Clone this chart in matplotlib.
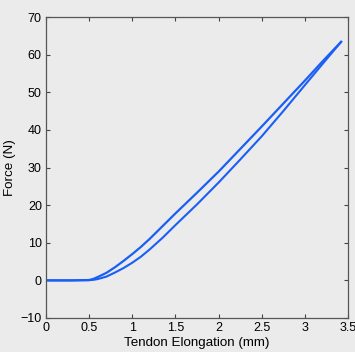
import matplotlib
matplotlib.use("Agg")
import matplotlib.pyplot as plt

# unloading branch (upper) and loading branch (lower)
x_up = [0, 0.3, 0.5, 0.55, 0.6, 0.7, 0.8, 0.9, 1.0, 1.1, 1.2, 1.35, 1.5, 1.75,
        2.0, 2.25, 2.5, 2.75, 3.0, 3.2, 3.42]
f_up = [0, 0, 0.1, 0.4, 0.9, 2.0, 3.5, 5.2, 7.0, 8.9, 11.0, 14.4, 17.8, 23.3,
        28.9, 34.9, 40.9, 47.0, 53.1, 58.1, 63.4]
x_lo = [0, 0.3, 0.5, 0.55, 0.6, 0.7, 0.8, 0.9, 1.0, 1.1, 1.2, 1.35, 1.5, 1.75,
        2.0, 2.25, 2.5, 2.75, 3.0, 3.2, 3.42]
f_lo = [0, 0, 0.05, 0.15, 0.35, 1.0, 2.1, 3.3, 4.7, 6.3, 8.2, 11.3, 14.7, 20.2,
        26.0, 32.1, 38.3, 45.0, 51.9, 57.4, 63.4]

xticks = [0, 0.5, 1, 1.5, 2, 2.5, 3, 3.5]
xticklabels = ["0", "0.5", "1", "1.5", "2", "2.5", "3", "3.5"]
yticks = list(range(-10, 71, 10))

plt.rcParams['font.family'] = ['Liberation Sans', 'DejaVu Sans']
bg = "#ebebeb"
fig = plt.figure(figsize=(3.55, 3.52), dpi=100, facecolor=bg)
ax = fig.add_axes([0.1296, 0.0966, 0.8507, 0.855], facecolor=bg)

blue = "#1a5ff5"
ax.plot(x_up, f_up, color=blue, lw=1.6, solid_joinstyle='round')
ax.plot(x_lo, f_lo, color=blue, lw=1.5, solid_joinstyle='round')

ax.set_xlim(0, 3.5)
ax.set_ylim(-10, 70)
ax.set_xticks(xticks)
ax.set_xticklabels(xticklabels)
ax.set_yticks(yticks)
ax.tick_params(direction='in', length=3, width=0.8, labelsize=9,
               top=True, right=True, colors='#444444', labelcolor='black', pad=3)
for s in ax.spines.values():
    s.set_color('#555555')
    s.set_linewidth(0.9)

ax.set_xlabel("Tendon Elongation (mm)", fontsize=9.6, labelpad=2)
ax.set_ylabel("Force (N)", fontsize=9.6, labelpad=3)

fig.savefig("out.png", dpi=100, facecolor=bg)
